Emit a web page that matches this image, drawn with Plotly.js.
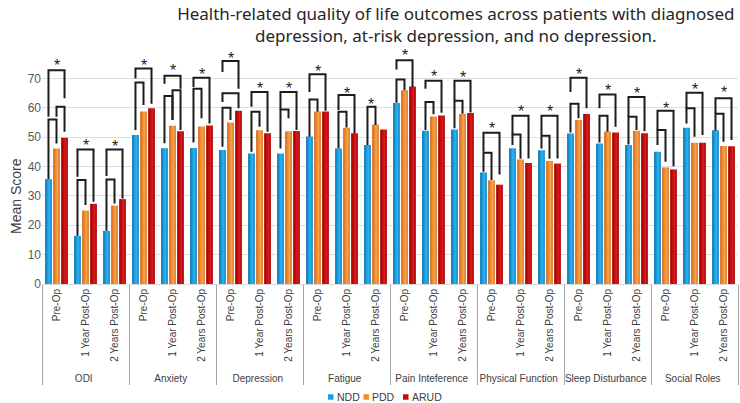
<!DOCTYPE html>
<html>
<head>
<meta charset="utf-8">
<script src="https://cdn.plot.ly/plotly-3.0.1.min.js"></script>
<style>
  html, body { margin: 0; padding: 0; background: #ffffff; }
  #chart { width: 740px; height: 403px; }
</style>
</head>
<body>
<div id="chart"></div>
<script>
// Outcome measures (outer axis level) and follow-up time points (inner level)
const outcomes = ['ODI', 'Anxiety', 'Depression', 'Fatigue', 'Pain Inteference',
                  'Physical Function', 'Sleep Disturbance', 'Social Roles'];
const timepoints = ['Pre-Op', '1 Year Post-Op', '2 Years Post-Op'];
const seriesNames = ['NDD', 'PDD', 'ARUD'];

// Mean scores, ordered outcome by outcome, three time points each
const nddValues  = [35.7, 16.4, 18.1, 50.7, 46.2, 46.3, 45.6, 44.4, 44.4, 50.2, 46.1, 47.3,
                    61.6, 52.2, 52.6, 38.0, 46.2, 45.5, 51.2, 47.8, 47.3, 45.0, 53.2, 52.3];
const pddValues  = [46.1, 25.0, 26.7, 58.7, 53.9, 53.6, 55.0, 52.3, 52.0, 58.7, 53.2, 54.3,
                    66.0, 57.0, 57.9, 35.3, 42.4, 41.9, 55.8, 51.9, 52.2, 39.7, 48.1, 47.0];
const arudValues = [49.8, 27.3, 28.9, 59.8, 52.0, 54.0, 59.0, 51.3, 52.1, 58.7, 51.3, 52.6,
                    67.2, 57.4, 58.2, 33.8, 41.2, 41.0, 57.9, 51.6, 51.3, 39.0, 48.1, 46.9];

// Significance brackets: category index, first group, second group,
// bracket top, left leg end, right leg end (all in score units)
const bracketCat   = [0, 0, 0, 1, 1, 2, 2, 3, 3, 4, 4, 4, 5, 5, 6, 6, 6, 7, 7, 8, 8,
                      9, 9, 10, 10, 11, 12, 12, 13, 13, 14, 14, 15, 15, 16, 16, 17, 17,
                      18, 18, 19, 19, 20, 20, 21, 21, 22, 22, 23, 23];
const bracketFrom  = [0, 1, 0, 0, 0, 0, 0, 0, 0, 0, 1, 0, 0, 0, 0, 0, 0, 0, 0, 0, 0,
                      0, 0, 0, 0, 0, 0, 0, 0, 0, 0, 0, 0, 0, 0, 0, 0, 0,
                      0, 0, 0, 0, 0, 0, 0, 0, 0, 0, 0, 0];
const bracketTo    = [2, 2, 1, 2, 1, 2, 1, 2, 1, 2, 2, 1, 2, 1, 2, 2, 1, 2, 1, 2, 1,
                      2, 1, 2, 1, 1, 2, 1, 2, 1, 2, 1, 2, 1, 2, 1, 2, 1,
                      2, 1, 2, 1, 2, 1, 2, 1, 2, 1, 2, 1];
const bracketTop   = [72.8, 60.3, 56.0, 45.8, 35.4, 45.8, 35.6, 73.4, 68.6, 70.9, 66.0, 64.0,
                      70.2, 66.5, 75.9, 64.9, 60.0, 65.4, 58.6, 65.4, 59.4,
                      71.4, 62.8, 64.3, 58.6, 60.3, 76.2, 69.6, 69.2, 62.0, 69.2, 62.4,
                      51.5, 44.7, 57.3, 50.9, 57.3, 50.5, 70.2, 61.4, 64.5, 57.3, 63.7, 56.9,
                      59.0, 52.4, 65.1, 59.8, 63.2, 58.0];
const bracketLeft  = [56.9, 56.9, 35.7, 36.5, 16.4, 36.8, 18.1, 70.0, 52.4, 68.2, 55.8, 47.9,
                      67.1, 48.2, 72.2, 62.0, 46.7, 60.3, 45.0, 59.4, 46.1,
                      65.4, 50.1, 59.2, 46.1, 47.3, 73.0, 61.7, 66.5, 52.4, 62.6, 53.0,
                      45.0, 38.2, 50.9, 47.3, 50.7, 46.1, 65.4, 51.6, 59.8, 48.2, 56.9, 47.5,
                      52.4, 47.3, 59.8, 54.6, 58.0, 52.2];
const bracketRight = [63.2, 51.8, 47.8, 28.0, 26.9, 29.1, 27.4, 61.4, 60.9, 66.5, 52.4, 55.8,
                      54.6, 56.4, 66.5, 59.8, 55.8, 51.8, 53.5, 52.4, 56.4,
                      59.0, 58.6, 51.2, 53.3, 54.1, 67.1, 66.0, 58.3, 57.8, 58.4, 58.0,
                      37.3, 35.4, 42.7, 42.6, 42.7, 42.6, 59.8, 56.4, 53.5, 51.8, 52.0, 52.4,
                      40.1, 41.6, 50.7, 50.1, 49.0, 48.4];

// Asterisk markers: category index, group span and height
const starCat  = [0, 1, 2, 3, 4, 5, 6, 7, 8, 9, 10, 11, 12, 13, 14, 15, 16, 17, 18, 19, 20, 21, 22, 23];
const starFrom = [0, 0, 0, 0, 0, 0, 0, 0, 0, 0, 0, 0, 0, 0, 0, 0, 0, 0, 0, 0, 0, 0, 0, 0];
const starTo   = [2, 2, 2, 2, 2, 2, 2, 2, 2, 2, 2, 1, 2, 2, 2, 2, 2, 2, 2, 2, 2, 2, 2, 2];
const starY    = [75.4, 48.2, 48.0, 75.4, 73.6, 72.2, 77.9, 67.5, 67.5, 73.4, 66.0, 62.2,
                  78.7, 71.6, 71.4, 53.9, 59.7, 59.7, 72.2, 66.9, 66.0, 60.9, 67.1, 66.2];

const yTicks = [0, 10, 20, 30, 40, 50, 60, 70];

// Two-level category coordinates
const outerLevel = [];
const innerLevel = [];
outcomes.forEach(o => timepoints.forEach(t => { outerLevel.push(o); innerLevel.push(t); }));

const barColors = ['#169fe0', '#f28a2c', '#c80a0a'];
const seriesValues = [nddValues, pddValues, arudValues];

const traces = seriesNames.map((name, i) => ({
  type: 'bar',
  name: name,
  x: [outerLevel, innerLevel],
  y: seriesValues[i],
  marker: { color: barColors[i], line: { width: 0 } },
  hoverinfo: 'skip'
}));

const W = 740, H = 403;
const margin = { l: 42, r: 2, t: 49, b: 119, autoexpand: false };
const plotW = W - margin.l - margin.r;
const plotH = H - margin.t - margin.b;
// pixel -> paper conversions for items placed outside the plotting area
const paperX = px => (px - margin.l) / plotW;
const paperY = py => (H - margin.b - py) / plotH;

const bargap = 0.17;
const slot = (1 - bargap) / seriesNames.length;
const barCenter = (cat, k) => cat + (k - 1) * slot;

const lineStyle = { color: '#1c1c1c', width: 2 };
const shapes = [];
for (let b = 0; b < bracketCat.length; b++) {
  const x0 = barCenter(bracketCat[b], bracketFrom[b]);
  const x1 = barCenter(bracketCat[b], bracketTo[b]);
  shapes.push({
    type: 'path', xref: 'x', yref: 'y', layer: 'above',
    path: 'M' + x0 + ',' + bracketLeft[b] + ' L' + x0 + ',' + bracketTop[b] +
          ' L' + x1 + ',' + bracketTop[b] + ' L' + x1 + ',' + bracketRight[b],
    line: lineStyle
  });
}

const annotations = starCat.map((c, i) => ({
  xref: 'x', yref: 'y',
  x: (barCenter(c, starFrom[i]) + barCenter(c, starTo[i])) / 2,
  y: starY[i],
  text: '*',
  showarrow: false,
  yanchor: 'middle',
  yshift: -3,
  font: { family: 'Liberation Sans, Arial, sans-serif', size: 16, color: '#1c1c1c' }
}));

// Vertical axis title
annotations.push({
  xref: 'paper', yref: 'paper',
  x: paperX(16), y: paperY(196),
  text: 'Mean Score', textangle: -90, showarrow: false,
  xanchor: 'center', yanchor: 'middle',
  font: { family: 'Liberation Sans, Arial, sans-serif', size: 14, color: '#404040' }
});

// Compact legend row below the outcome labels
const legendLeft = [328, 363.5, 403];
const legendMid = 397;
seriesNames.forEach((name, i) => {
  shapes.push({
    type: 'rect', xref: 'paper', yref: 'paper', layer: 'above',
    x0: paperX(legendLeft[i]), x1: paperX(legendLeft[i] + 5.5),
    y0: paperY(legendMid + 2.75), y1: paperY(legendMid - 2.75),
    fillcolor: barColors[i], line: { width: 0 }
  });
  annotations.push({
    xref: 'paper', yref: 'paper',
    x: paperX(legendLeft[i] + 6.5), y: paperY(legendMid),
    xanchor: 'left', yanchor: 'middle', showarrow: false,
    text: name,
    font: { family: 'Liberation Sans, Arial, sans-serif', size: 10.5, color: '#404040' }
  });
});

const layout = {
  width: W,
  height: H,
  margin: margin,
  paper_bgcolor: '#ffffff',
  plot_bgcolor: '#ffffff',
  title: {
    text: 'Health-related quality of life outcomes across patients with diagnosed<br>depression, at-risk depression, and no depression.',
    x: 0.616, xanchor: 'center',
    y: 0.95, yanchor: 'top',
    font: { family: 'Noto Sans, sans-serif', size: 17, color: '#262626' }
  },
  barmode: 'group',
  bargap: bargap,
  bargroupgap: 0.16,
  showlegend: false,
  xaxis: {
    type: 'multicategory',
    range: [-0.5, 23.5],
    tickangle: -90,
    ticks: '',
    showline: true,
    linecolor: '#d9d9d9',
    linewidth: 1,
    showdividers: true,
    dividercolor: '#a6a6a6',
    dividerwidth: 1,
    showgrid: false,
    automargin: false,
    tickfont: { family: 'Liberation Sans, Arial, sans-serif', size: 10, color: '#404040' }
  },
  yaxis: {
    range: [0, 80],
    tickmode: 'array',
    tickvals: yTicks,
    ticktext: yTicks.map(String),
    gridcolor: '#dedede',
    gridwidth: 1,
    zeroline: false,
    showline: false,
    ticks: '',
    automargin: false,
    tickfont: { family: 'Liberation Sans, Arial, sans-serif', size: 12, color: '#595959' }
  },
  shapes: shapes,
  annotations: annotations
};

// Horizontal shading that gives each bar a rounded, cylinder-like look
const gradientStops = [
  [['0%', '#0b6aa9'], ['30%', '#1598d8'], ['62%', '#2db4f2'], ['100%', '#0d7cc0']],
  [['0%', '#c9651a'], ['30%', '#ec8426'], ['62%', '#f8a24c'], ['100%', '#d8731f']],
  [['0%', '#950000'], ['30%', '#c00808'], ['62%', '#d81c1c'], ['100%', '#a80202']]
];

function shadeBars(gd) {
  const svgNS = 'http://www.w3.org/2000/svg';
  const defs = gd.querySelector('svg.main-svg defs');
  if (!defs) return;
  gradientStops.forEach((stops, i) => {
    const grad = document.createElementNS(svgNS, 'linearGradient');
    grad.setAttribute('id', 'barShade' + i);
    grad.setAttribute('x1', '0'); grad.setAttribute('y1', '0');
    grad.setAttribute('x2', '1'); grad.setAttribute('y2', '0');
    stops.forEach(s => {
      const st = document.createElementNS(svgNS, 'stop');
      st.setAttribute('offset', s[0]);
      st.setAttribute('stop-color', s[1]);
      grad.appendChild(st);
    });
    defs.appendChild(grad);
  });
  const traceGroups = gd.querySelectorAll('.barlayer .trace');
  traceGroups.forEach((g, i) => {
    g.querySelectorAll('.point path').forEach(p => { p.style.fill = 'url(#barShade' + i + ')'; });
  });
}

Plotly.newPlot('chart', traces, layout, { displayModeBar: false, staticPlot: true })
  .then(gd => shadeBars(gd));
</script>
</body>
</html>
